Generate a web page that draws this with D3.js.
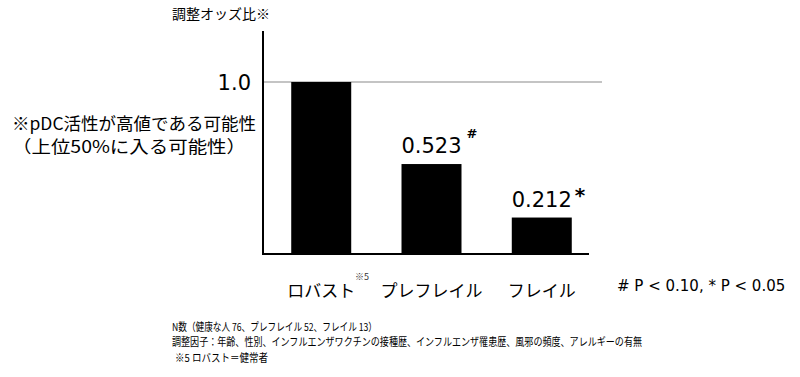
<!DOCTYPE html>
<html>
<head>
<meta charset="utf-8">
<script src="https://cdn.jsdelivr.net/npm/d3@7"></script>
<style>
  body { margin: 0; background: #fff; }
  svg { display: block; font-family: "Noto Sans CJK JP", "Noto Sans", sans-serif; }
</style>
</head>
<body>
<div id="chart"></div>
<script>
// --- Data ---
const categories = ["ロバスト", "プレフレイル", "フレイル"];
const oddsRatios = [1.0, 0.523, 0.212];
const valueLabels = ["", "0.523", "0.212"];
const marks = ["", "#", "*"];
const yTicks = [1.0];
const notes = [
    "N数（健康な人 76、プレフレイル 52、フレイル 13）",
    "調整因子：年齢、性別、インフルエンザワクチンの接種歴、インフルエンザ罹患歴、風邪の頻度、アレルギーの有無",
    "※5 ロバスト＝健常者"
];

const width = 800, height = 377;

const svg = d3.select("#chart").append("svg")
    .attr("width", width)
    .attr("height", height);

// --- Scales ---
const x = d3.scaleBand()
    .domain(categories)
    .range([263, 600])
    .paddingInner(0.456)
    .paddingOuter(0.256);

const y = d3.scaleLinear()
    .domain([0, 1])
    .range([254, 82]);

// gridline at 1.0
svg.append("g")
    .selectAll("line")
    .data(yTicks)
    .join("line")
    .attr("x1", 263)
    .attr("x2", 602)
    .attr("y1", d => y(d))
    .attr("y2", d => y(d))
    .attr("stroke", "#8a8a8a")
    .attr("stroke-width", 1.2);

svg.append("g")
    .selectAll("text")
    .data(yTicks)
    .join("text")
    .attr("x", 251)
    .attr("y", d => y(d))
    .attr("dy", "0.36em")
    .attr("text-anchor", "end")
    .attr("font-size", 21)
    .attr("font-family", "'DejaVu Sans', sans-serif")
    .text(d => d.toFixed(1));

// bars
svg.append("g")
    .selectAll("rect")
    .data(oddsRatios)
    .join("rect")
    .attr("x", (d, i) => x(categories[i]))
    .attr("width", x.bandwidth())
    .attr("y", d => y(d))
    .attr("height", d => y(0) - y(d))
    .attr("fill", "#000");

// axes lines
svg.append("line")
    .attr("x1", 263).attr("x2", 263)
    .attr("y1", 31).attr("y2", 255)
    .attr("stroke", "#000").attr("stroke-width", 2);
svg.append("line")
    .attr("x1", 262).attr("x2", 589)
    .attr("y1", 254).attr("y2", 254)
    .attr("stroke", "#000").attr("stroke-width", 2);

// value labels
const vl = svg.append("g")
    .selectAll("g")
    .data(oddsRatios)
    .join("g")
    .attr("transform", (d, i) => `translate(${x(categories[i]) + x.bandwidth() / 2},${y(d) - 11})`);

vl.append("text")
    .attr("text-anchor", "middle")
    .attr("font-size", 21)
    .attr("font-family", "'DejaVu Sans', sans-serif")
    .text((d, i) => valueLabels[i]);

vl.append("text")
    .attr("x", (d, i) => marks[i] === "*" ? 33 : 35)
    .attr("y", (d, i) => marks[i] === "*" ? -5 : -15)
    .attr("font-size", (d, i) => marks[i] === "*" ? 20 : 13)
    .attr("font-weight", "bold")
    .attr("font-family", "'DejaVu Sans', sans-serif")
    .text((d, i) => marks[i]);

// category labels
svg.append("g")
    .selectAll("text")
    .data(categories)
    .join("text")
    .attr("x", d => x(d) + x.bandwidth() / 2)
    .attr("y", 297)
    .attr("text-anchor", "middle")
    .attr("font-size", 17)
    .text(d => d);

svg.append("text")
    .attr("x", 355).attr("y", 280)
    .attr("font-size", 9)
    .attr("fill", "#333")
    .text("※5");

// titles
svg.append("text")
    .attr("x", 172).attr("y", 19)
    .attr("font-size", 14)
    .attr("textLength", 98)
    .attr("lengthAdjust", "spacingAndGlyphs")
    .text("調整オッズ比※");

svg.append("text")
    .attr("x", 12).attr("y", 130)
    .attr("font-size", 17)
    .attr("textLength", 244)
    .attr("lengthAdjust", "spacingAndGlyphs")
    .text("※pDC活性が高値である可能性");
svg.append("text")
    .attr("x", 12).attr("y", 153)
    .attr("font-size", 17)
    .attr("textLength", 234)
    .attr("lengthAdjust", "spacingAndGlyphs")
    .text("（上位50%に入る可能性）");

svg.append("text")
    .attr("x", 617).attr("y", 291)
    .attr("font-size", 15)
    .attr("font-family", "'DejaVu Sans', sans-serif")
    .text("# P < 0.10, * P < 0.05");

// footnotes
const noteLen = [205, 470, 93];
svg.append("g")
    .selectAll("text")
    .data(notes)
    .join("text")
    .attr("x", (d, i) => i === 2 ? 175 : 172)
    .attr("y", (d, i) => [331, 346, 362][i])
    .attr("font-size", 11)
    .attr("textLength", (d, i) => noteLen[i])
    .attr("lengthAdjust", "spacingAndGlyphs")
    .text(d => d);
</script>
</body>
</html>
